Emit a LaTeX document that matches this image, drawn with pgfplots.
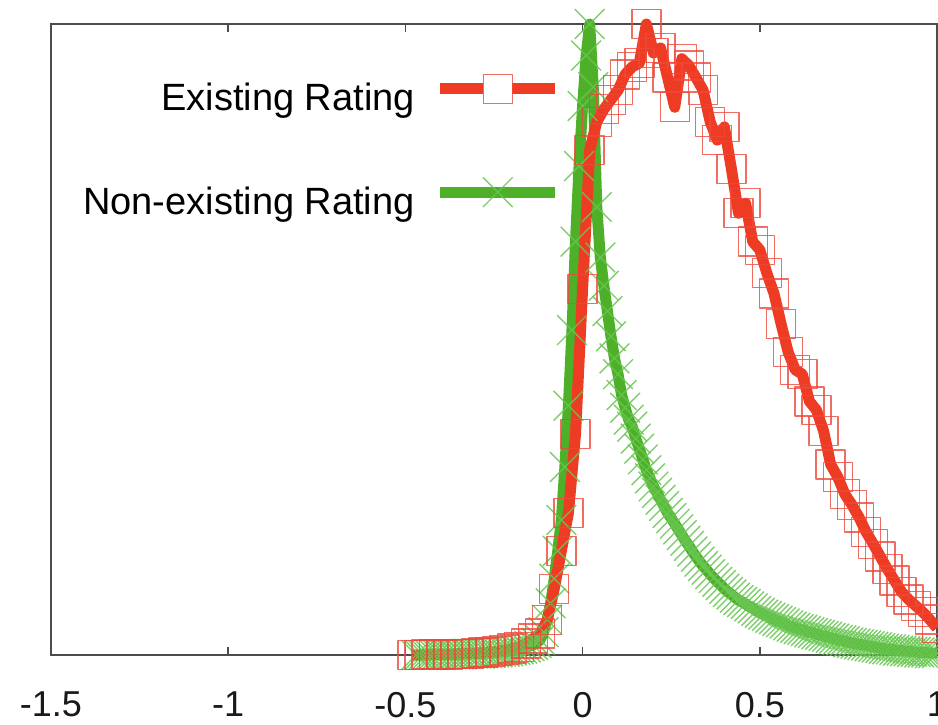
\documentclass[border=0pt]{standalone}
\usepackage{pgfplots}
\pgfplotsset{compat=1.18}
\usepackage{fontspec}
\setmainfont{Liberation Sans}
\definecolor{redline}{RGB}{238,60,36}
\definecolor{greenline}{RGB}{78,176,40}
\definecolor{redmark}{RGB}{238,72,58}
\definecolor{greenmark}{RGB}{105,198,82}

\pgfplotstableread{
x y
-0.47 0.000
-0.46 0.000
-0.45 0.000
-0.44 0.000
-0.43 0.000
-0.42 0.001
-0.41 0.001
-0.40 0.001
-0.39 0.001
-0.38 0.001
-0.37 0.001
-0.36 0.001
-0.35 0.001
-0.34 0.001
-0.33 0.002
-0.32 0.002
-0.31 0.002
-0.30 0.002
-0.29 0.002
-0.28 0.003
-0.27 0.003
-0.26 0.003
-0.25 0.004
-0.24 0.004
-0.23 0.005
-0.22 0.005
-0.21 0.006
-0.20 0.007
-0.19 0.008
-0.18 0.009
-0.17 0.010
-0.16 0.012
-0.15 0.014
-0.14 0.016
-0.13 0.019
-0.12 0.024
-0.11 0.036
-0.10 0.056
-0.09 0.082
-0.08 0.121
-0.07 0.165
-0.06 0.214
-0.05 0.298
-0.04 0.395
-0.03 0.515
-0.02 0.655
-0.01 0.775
0.00 0.870
0.01 0.950
0.02 1.000
0.03 0.900
0.04 0.710
0.05 0.630
0.06 0.585
0.07 0.545
0.08 0.505
0.09 0.470
0.10 0.445
0.11 0.412
0.12 0.392
0.13 0.373
0.14 0.362
0.15 0.343
0.16 0.327
0.17 0.310
0.18 0.293
0.19 0.280
0.20 0.267
0.21 0.257
0.22 0.246
0.23 0.236
0.24 0.225
0.25 0.217
0.26 0.208
0.27 0.199
0.28 0.190
0.29 0.181
0.30 0.173
0.31 0.164
0.32 0.156
0.33 0.148
0.34 0.141
0.35 0.135
0.36 0.128
0.37 0.122
0.38 0.116
0.39 0.111
0.40 0.105
0.41 0.100
0.42 0.096
0.43 0.091
0.44 0.087
0.45 0.084
0.46 0.081
0.47 0.077
0.48 0.074
0.49 0.070
0.50 0.067
0.51 0.064
0.52 0.062
0.53 0.059
0.54 0.057
0.55 0.054
0.56 0.052
0.57 0.050
0.58 0.047
0.59 0.045
0.60 0.043
0.61 0.041
0.62 0.040
0.63 0.038
0.64 0.036
0.65 0.035
0.66 0.033
0.67 0.032
0.68 0.030
0.69 0.029
0.70 0.027
0.71 0.026
0.72 0.024
0.73 0.023
0.74 0.022
0.75 0.020
0.76 0.019
0.77 0.018
0.78 0.017
0.79 0.016
0.80 0.015
0.81 0.014
0.82 0.013
0.83 0.012
0.84 0.011
0.85 0.010
0.86 0.009
0.87 0.009
0.88 0.008
0.89 0.007
0.90 0.007
0.91 0.006
0.92 0.006
0.93 0.005
0.94 0.005
0.95 0.004
0.96 0.004
0.97 0.004
0.98 0.003
0.99 0.003
1.00 0.003
}\nonexisting

\pgfplotstableread{
x y
-0.48 0.000
-0.46 0.000
-0.44 0.001
-0.42 0.001
-0.40 0.001
-0.38 0.001
-0.36 0.002
-0.34 0.002
-0.32 0.002
-0.30 0.003
-0.28 0.004
-0.26 0.005
-0.24 0.006
-0.22 0.008
-0.20 0.010
-0.18 0.013
-0.16 0.018
-0.14 0.026
-0.12 0.034
-0.10 0.055
-0.08 0.105
-0.06 0.165
-0.04 0.225
-0.02 0.350
0.00 0.580
0.02 0.800
0.04 0.845
0.06 0.865
0.08 0.880
0.10 0.895
0.12 0.920
0.14 0.932
0.16 0.938
0.18 1.000
0.20 0.954
0.22 0.962
0.24 0.915
0.26 0.868
0.28 0.945
0.30 0.934
0.32 0.915
0.34 0.895
0.36 0.845
0.38 0.816
0.40 0.837
0.42 0.770
0.44 0.700
0.46 0.716
0.48 0.655
0.50 0.642
0.52 0.605
0.54 0.573
0.56 0.525
0.58 0.480
0.60 0.452
0.62 0.445
0.64 0.402
0.66 0.388
0.68 0.355
0.70 0.302
0.72 0.282
0.74 0.255
0.76 0.238
0.78 0.218
0.80 0.195
0.82 0.176
0.84 0.156
0.86 0.136
0.88 0.118
0.90 0.100
0.92 0.088
0.94 0.078
0.96 0.068
0.98 0.056
1.00 0.043
}\existing

\begin{document}
\begin{tikzpicture}
\begin{axis}[
  scale only axis, width=886pt, height=631pt,
  xmin=-1.5, xmax=1, ymin=0, ymax=1,
  xtick={-1.5,-1,-0.5,0,0.5,1},
  xticklabels={-1.5,-1,-0.5,0,0.5,1},
  ytick=\empty,
  xtick pos=both, tick align=inside,
  major tick length=8pt,
  axis line style={line width=1.6pt, draw=black!70},
  every tick/.style={line width=1.6pt, black!70},
  xticklabel style={font=\fontsize{36}{40}\selectfont, inner sep=0pt, yshift=-37pt, text=black!90},
  clip=false,
  reverse legend,
  legend cell align=right,
  legend plot pos=right,
  legend style={draw=none, fill=none, at={(axis description cs:0.5790,0.9237)}, anchor=north east,
    font=\fontsize{38}{44}\selectfont, nodes={inner sep=0pt}, row sep=65pt},
]
\addplot[greenline, line width=11pt, line join=round, mark=x, mark size=21pt,
  mark options={draw=greenmark, draw opacity=0.85, line width=1.4pt, solid},
  legend image code/.code={
    \path (0pt,9pt);
    \draw[mark=none] (20pt,9pt) -- (135pt,9pt);
    \draw[only marks] plot coordinates {(77.5pt,9pt)};
  }] table[x=x, y=y] {\nonexisting};
\addlegendentry{Non-existing Rating}
\addplot[redline, line width=11pt, line join=round, mark=square, mark size=14.5pt,
  mark options={draw=redmark, draw opacity=0.8, line width=1.4pt, solid, fill=none},
  legend image code/.code={
    \path (0pt,9pt);
    \draw[mark=none] (20pt,9pt) -- (63pt,9pt);
    \draw[mark=none] (92pt,9pt) -- (135pt,9pt);
    \draw[only marks] plot coordinates {(77.5pt,9pt)};
  }] table[x=x, y=y] {\existing};
\addlegendentry{Existing Rating}
\end{axis}
\pgfresetboundingbox
\path[use as bounding box] (-51pt,-69pt) rectangle (887pt,655pt);
\end{tikzpicture}
\end{document}
